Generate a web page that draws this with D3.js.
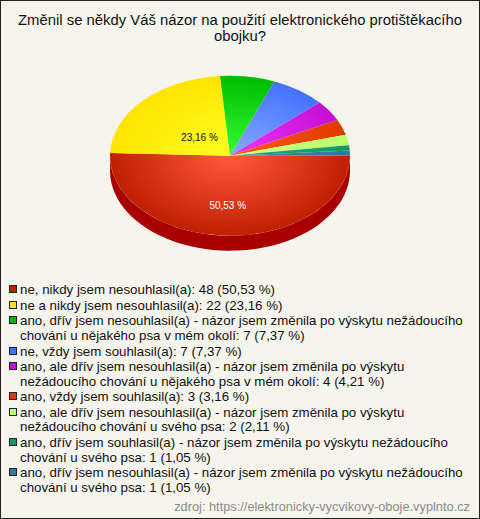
<!DOCTYPE html>
<html><head><meta charset="utf-8">
<script src="https://cdnjs.cloudflare.com/ajax/libs/d3/7.8.5/d3.min.js"></script>
<style>html,body{margin:0;padding:0;background:#f5f5ed}svg{display:block}text{font-family:"Liberation Sans",Arial,sans-serif}</style>
</head><body><svg id="c" width="480" height="519"></svg>
<script>
const titleLines = ["Změnil se někdy Váš názor na použití elektronického protištěkacího","obojku?"];
const values = [48,22,7,7,4,3,2,1,1];
const percents = ["50,53 %","23,16 %","7,37 %","7,37 %","4,21 %","3,16 %","2,11 %","1,05 %","1,05 %"];
const labels = [
 ["ne, nikdy jsem nesouhlasil(a): 48 (50,53 %)"],
 ["ne a nikdy jsem nesouhlasil(a): 22 (23,16 %)"],
 ["ano, dřív jsem nesouhlasil(a) - názor jsem změnila po výskytu nežádoucího","chování u nějakého psa v mém okolí: 7 (7,37 %)"],
 ["ne, vždy jsem souhlasil(a): 7 (7,37 %)"],
 ["ano, ale dřív jsem nesouhlasil(a) - názor jsem změnila po výskytu","nežádoucího chování u nějakého psa v mém okolí: 4 (4,21 %)"],
 ["ano, vždy jsem souhlasil(a): 3 (3,16 %)"],
 ["ano, ale dřív jsem nesouhlasil(a) - názor jsem změnila po výskytu","nežádoucího chování u svého psa: 2 (2,11 %)"],
 ["ano, dřív jsem souhlasil(a) - názor jsem změnila po výskytu nežádoucího","chování u svého psa: 1 (1,05 %)"],
 ["ano, dřív jsem nesouhlasil(a) - názor jsem změnila po výskytu nežádoucího","chování u svého psa: 1 (1,05 %)"]
];
const edgeColors = ["#bf2000","#ffe400","#00bb00","#4472ff","#c40fd6","#e03a00","#bbff66","#11996a","#2f7a96"];
const midColors  = ["#ff5a3c","#ffff22","#33ff33","#88aaff","#f033ff","#ff5a1a","#d0ff90","#22aa77","#4488aa"];
const sourceText = "zdroj: https://elektronicky-vycvikovy-oboje.vyplnto.cz";

const svg = d3.select("#c");
const W=480,H=519,cx=230,cy=155.7,rx=120,ry=80,depth=15;
svg.append("rect").attr("x",.5).attr("y",.5).attr("width",W-1).attr("height",H-1).attr("fill","#f5f5ed").attr("stroke","#222");

const t=svg.append("g").attr("text-anchor","middle").attr("fill","#111").style("font-size","14.85px");
titleLines.forEach((s,i)=>t.append("text").attr("x",240).attr("y",25+i*16).text(s));

const pie=d3.pie().sort(null).startAngle(Math.PI/2).endAngle(Math.PI*2.5)(values);
const arc=d3.arc().innerRadius(0).outerRadius(rx);
const defs=svg.append("defs");
values.forEach((v,i)=>{
  const g=defs.append("radialGradient").attr("id","g"+i).attr("gradientUnits","userSpaceOnUse")
    .attr("cx",0).attr("cy",0).attr("r",rx);
  g.append("stop").attr("offset",0).attr("stop-color",midColors[i]);
  g.append("stop").attr("offset",1).attr("stop-color",edgeColors[i]);
});
// side wall of the lower half
const angle=d3.scaleLinear().domain([0,1]).range([Math.PI/2,Math.PI*1.5+0.03]);
const wall=d3.range(0,1.0001,0.02).map(angle).map(a=>[cx+rx*Math.sin(a),cy-ry*Math.cos(a)]);
const wallPts=wall.concat(wall.slice().reverse().map(p=>[p[0],p[1]+depth]));
svg.append("path").attr("d",d3.line()(wallPts)+"Z").attr("fill","#a80000");

const pg=svg.append("g").attr("transform",`translate(${cx},${cy}) scale(1,${ry/rx})`);
pg.selectAll("path").data(pie).join("path").attr("d",arc).attr("fill",(d,i)=>`url(#g${i})`);

// percent labels
[0,1].forEach(i=>{
  const d=pie[i],a=(d.startAngle+d.endAngle)/2,f=i==0?0.62:0.34;
  svg.append("text").attr("x",cx+rx*f*Math.sin(a)-1).attr("y",cy-ry*f*Math.cos(a)+4)
   .attr("text-anchor","middle").attr("fill",i==0?"#fff":"#111").style("font-size","10px").text(percents[i]);
});

// legend
const lg=svg.append("g");
const itemGap=15.7, innerGap=14.4;
let y=294;
labels.forEach((ls,i)=>{
  lg.append("rect").attr("x",9.5).attr("y",Math.floor(y-8.5)+.5).attr("width",7).attr("height",7).attr("fill",edgeColors[i]).attr("stroke","#222");
  ls.forEach((s,j)=>{
    lg.append("text").attr("x",20).attr("y",y+j*innerGap).attr("fill","#111").style("font-size","13.3px").text(s);
  });
  y+=(ls.length-1)*innerGap+itemGap;
});
svg.append("text").attr("x",470).attr("y",511).attr("text-anchor","end").attr("fill","#8c8c8c").style("font-size","12.8px").text(sourceText);
</script></body></html>
